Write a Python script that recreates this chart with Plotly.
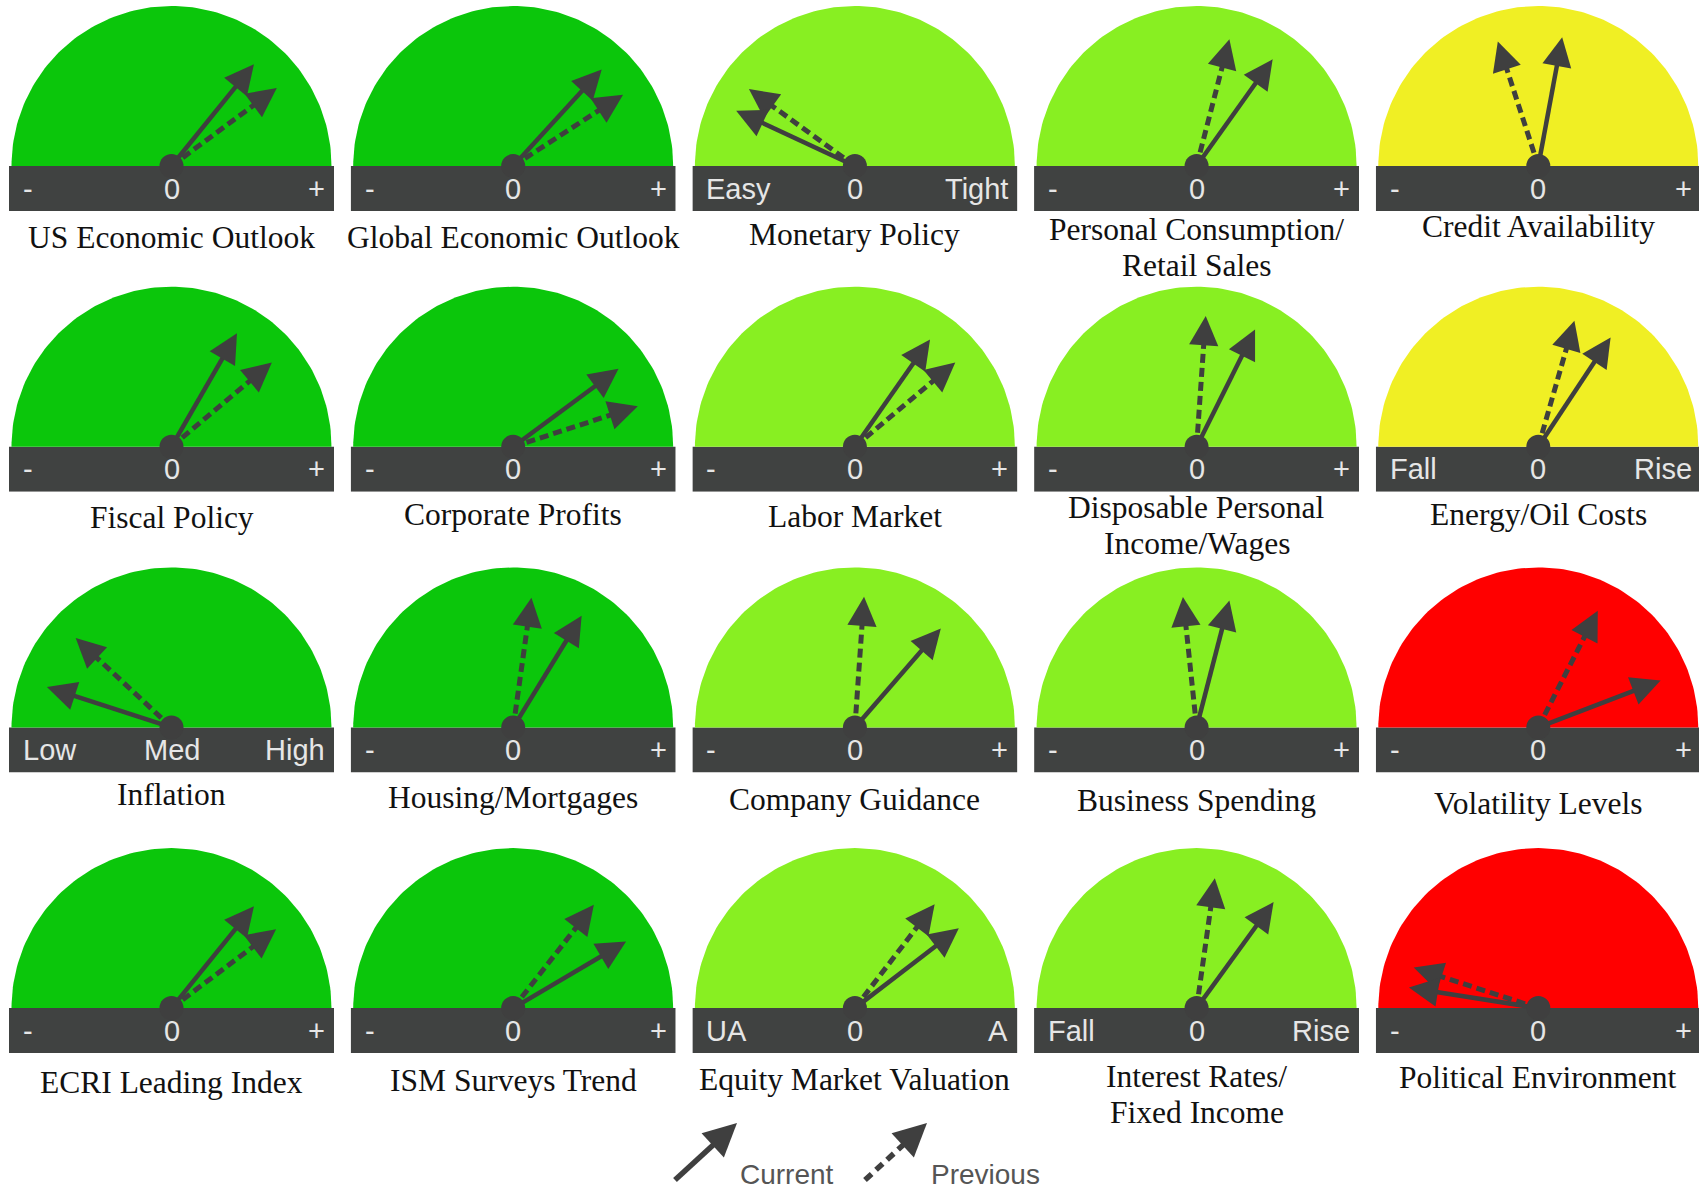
import math
import plotly.graph_objects as go

# ---------------- data ----------------
gauge_labels = [
    "US Economic Outlook", "Global Economic Outlook", "Monetary Policy",
    "Personal Consumption/\nRetail Sales", "Credit Availability",
    "Fiscal Policy", "Corporate Profits", "Labor Market",
    "Disposable Personal\nIncome/Wages", "Energy/Oil Costs",
    "Inflation", "Housing/Mortgages", "Company Guidance",
    "Business Spending", "Volatility Levels",
    "ECRI Leading Index", "ISM Surveys Trend", "Equity Market Valuation",
    "Interest Rates/\nFixed Income", "Political Environment",
]

# needle readings, degrees away from the centre mark (negative = left label side, positive = right label side)
current_reading = [39, 42.5, -65, 35.5, 10.5,
                   30, 53.5, 35, 26.5, 33.5,
                   -72, 31.5, 41, 14.5, 69,
                   39, 59.5, 52.5, 36, -81]
previous_reading = [53.5, 57, -54, 14.5, -18,
                    50, 72, 50, 4, 16,
                    -47, 8, 4, -6, 27,
                    53, 38, 37.5, 8, -72]

scale_left = ["-", "-", "Easy", "-", "-",
              "-", "-", "-", "-", "Fall",
              "Low", "-", "-", "-", "-",
              "-", "-", "UA", "Fall", "-"]
scale_mid = ["0", "0", "0", "0", "0",
             "0", "0", "0", "0", "0",
             "Med", "0", "0", "0", "0",
             "0", "0", "0", "0", "0"]
scale_right = ["+", "+", "Tight", "+", "+",
               "+", "+", "+", "+", "Rise",
               "High", "+", "+", "+", "+",
               "+", "+", "A", "Rise", "+"]

gauge_status = ["strong", "strong", "positive", "positive", "neutral",
                "strong", "strong", "positive", "positive", "neutral",
                "strong", "strong", "positive", "positive", "negative",
                "strong", "strong", "positive", "positive", "negative"]

legend_labels = ["Current", "Previous"]

# ---------------- style / layout ----------------
status_colors = {"strong": "#0bc60b", "positive": "#88ef22",
                 "neutral": "#f0ef24", "negative": "#ff0000"}
BAR_COLOR = "#404241"
NEEDLE_COLOR = "#3f3f3f"
SCALE_TEXT = "#e6e6e6"
W, H = 1699, 1189
R_DOME = 160
HALF_W = 162.5
BAR_H = 45
NEEDLE_LEN = 131
HEAD_BACK = 15
COL_X0, COL_STEP = 171.5, 341.7
ROW_Y0, ROW_STEP = 166, 280.7
label_dy = [26, 26, 23, 18, 15,
            26, 23, 25, 16, 23,
            22, 25, 27, 28, 31,
            29, 27, 26, 23, 24]
LINE_GAP = 36
SERIF = "Liberation Serif, Times New Roman, serif"
SANS = "Liberation Sans, Arial, sans-serif"

fig = go.Figure()
annotations = []
shapes = []
layout_axes = {}

dome_t = [math.pi * k / 120 for k in range(121)]

for i, label in enumerate(gauge_labels):
    r, c = divmod(i, 5)
    cx = COL_X0 + COL_STEP * c
    cy = ROW_Y0 + ROW_STEP * r
    n = i + 1
    xr = "x" if n == 1 else f"x{n}"
    yr = "y" if n == 1 else f"y{n}"
    xa = "xaxis" if n == 1 else f"xaxis{n}"
    ya = "yaxis" if n == 1 else f"yaxis{n}"

    left_px = max(cx - HALF_W, 0)
    right_px = min(cx + HALF_W, W)
    top_px = cy - R_DOME - 2
    bot_px = cy + BAR_H
    layout_axes[xa] = dict(domain=[left_px / W, right_px / W],
                           range=[left_px - cx, right_px - cx],
                           visible=False, fixedrange=True, anchor=yr)
    layout_axes[ya] = dict(domain=[1 - bot_px / H, 1 - top_px / H],
                           range=[-BAR_H, R_DOME + 2],
                           visible=False, fixedrange=True, anchor=xr)

    col = status_colors[gauge_status[i]]
    # dome
    fig.add_trace(go.Scatter(
        x=[R_DOME * math.cos(t) for t in dome_t],
        y=[R_DOME * math.sin(t) for t in dome_t],
        fill="toself", fillcolor=col, mode="lines", line=dict(width=0, color=col),
        hoverinfo="skip", showlegend=False, xaxis=xr, yaxis=yr))
    # scale bar
    shapes.append(dict(type="rect", xref=xr, yref=yr, x0=-HALF_W, x1=HALF_W,
                       y0=-BAR_H, y1=0, fillcolor=BAR_COLOR, line=dict(width=0),
                       layer="below"))
    # needles
    for reading, dash, lw in ((previous_reading[i], "9px,5px", 5),
                              (current_reading[i], "solid", 4.5)):
        a = math.radians(90 - reading)
        ux, uy = math.cos(a), math.sin(a)
        tipx, tipy = NEEDLE_LEN * ux, NEEDLE_LEN * uy
        bx, by = (NEEDLE_LEN - HEAD_BACK) * ux, (NEEDLE_LEN - HEAD_BACK) * uy
        fig.add_trace(go.Scatter(
            x=[0, bx], y=[0, by], mode="lines",
            line=dict(color=NEEDLE_COLOR, width=lw, dash=dash),
            hoverinfo="skip", showlegend=False, xaxis=xr, yaxis=yr))
        annotations.append(dict(
            x=tipx, y=tipy, ax=bx, ay=by, xref=xr, yref=yr, axref=xr, ayref=yr,
            text="", showarrow=True, arrowhead=2, arrowsize=1.3, arrowwidth=4.5,
            arrowcolor=NEEDLE_COLOR, standoff=0, startstandoff=0))
    # pivot
    shapes.append(dict(type="circle", xref=xr, yref=yr, x0=-12, x1=12, y0=-12, y1=12,
                       fillcolor=NEEDLE_COLOR, line=dict(width=0), layer="above"))
    # scale labels
    sfont = dict(family=SANS, size=29, color=SCALE_TEXT)
    annotations.append(dict(x=-HALF_W + 12, y=-BAR_H / 2, xref=xr, yref=yr,
                            text=scale_left[i], showarrow=False, xanchor="left",
                            yanchor="middle", font=sfont))
    annotations.append(dict(x=0, y=-BAR_H / 2, xref=xr, yref=yr,
                            text=scale_mid[i], showarrow=False, xanchor="center",
                            yanchor="middle", font=sfont))
    annotations.append(dict(x=HALF_W - 7, y=-BAR_H / 2, xref=xr, yref=yr,
                            text=scale_right[i], showarrow=False, xanchor="right",
                            yanchor="middle", font=sfont))
    # gauge title (paper coordinates: below the subplot)
    for k, line in enumerate(label.split("\n")):
        ty = cy + BAR_H + label_dy[i] + LINE_GAP * k
        annotations.append(dict(x=cx / W, y=1 - ty / H,
                                xref="paper", yref="paper", text=line, showarrow=False,
                                xanchor="center", yanchor="middle",
                                font=dict(family=SERIF, size=31.5, color="#111111")))

# ---------------- key (legend) ----------------
key_tip = [(737, 1123), (927, 1123)]
key_tail = [(675, 1180), (865, 1180)]
key_text_x = [738, 929]
for j, name in enumerate(legend_labels):
    (tx, ty), (sx, sy) = key_tip[j], key_tail[j]
    dx, dy = tx - sx, ty - sy
    L = math.hypot(dx, dy)
    ux, uy = dx / L, dy / L
    hx, hy = tx - HEAD_BACK * ux, ty - HEAD_BACK * uy
    shapes.append(dict(type="line", xref="paper", yref="paper",
                       x0=sx / W, y0=1 - sy / H, x1=hx / W, y1=1 - hy / H,
                       line=dict(color=NEEDLE_COLOR, width=5.5,
                                 dash="solid" if j == 0 else "9px,6px")))
    annotations.append(dict(x=tx / W, y=1 - ty / H, xref="paper", yref="paper",
                            ax=hx - tx, ay=hy - ty, text="", showarrow=True,
                            arrowhead=2, arrowsize=1.2, arrowwidth=5.5,
                            arrowcolor=NEEDLE_COLOR, standoff=0))
    annotations.append(dict(x=key_text_x[j] / W, y=1 - 1174 / H, xref="paper",
                            yref="paper", text=name, showarrow=False,
                            xanchor="left", yanchor="middle",
                            font=dict(family=SANS, size=28, color="#555555")))

fig.update_layout(
    width=W, height=H, autosize=False,
    margin=dict(l=0, r=0, t=0, b=0, pad=0),
    paper_bgcolor="white", plot_bgcolor="rgba(0,0,0,0)",
    showlegend=False, shapes=shapes, annotations=annotations,
    **layout_axes,
)

fig.write_html("out.html", config={"displayModeBar": False, "staticPlot": True},
               post_script="document.body.style.margin='0';document.body.style.overflow='hidden';")
